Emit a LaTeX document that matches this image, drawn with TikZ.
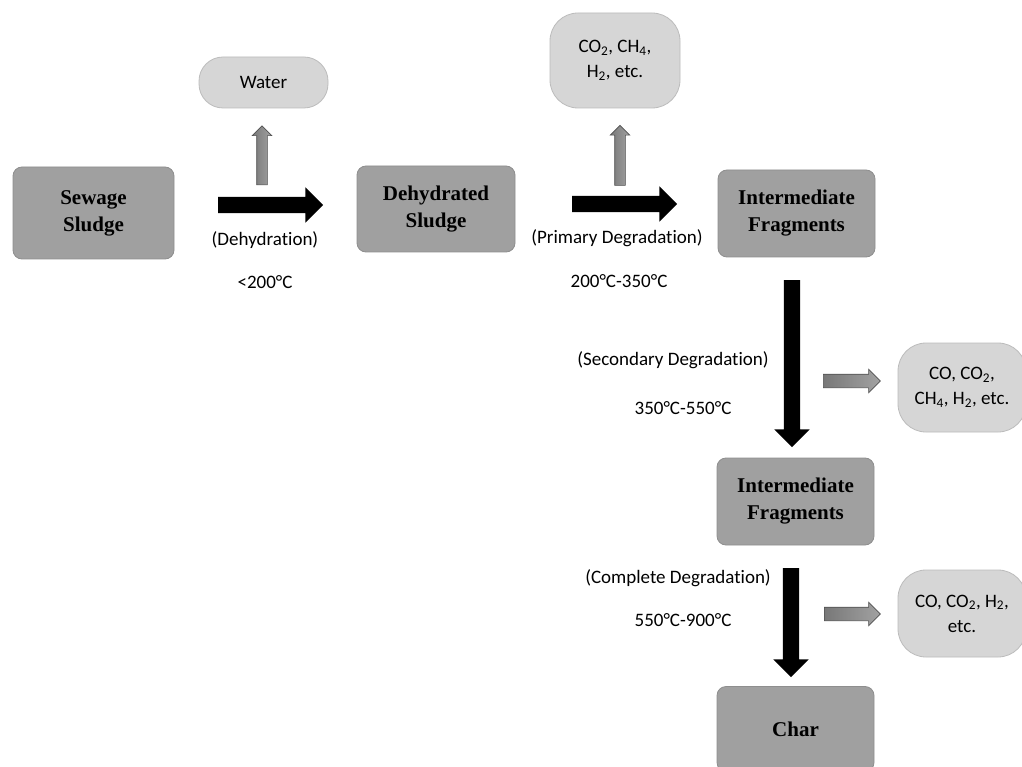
\documentclass[tikz,border=0pt]{standalone}
\usepackage{fontspec}
\setmainfont[Ligatures=NoCommon]{Carlito}
\newfontfamily\boxfont{Liberation Serif}
\usetikzlibrary{shapes.arrows}
\definecolor{darkfill}{HTML}{A0A0A0}
\definecolor{darkline}{HTML}{8E8E8E}
\definecolor{lightfill}{HTML}{D6D6D6}
\definecolor{lightline}{HTML}{BCBCBC}
\definecolor{arrowdark}{HTML}{787878}
\definecolor{arrowlight}{HTML}{A2A2A2}
\definecolor{arrowline}{HTML}{505050}
\begin{document}
\begin{tikzpicture}[x=1pt,y=-1pt,
  stage/.style={draw=darkline, fill=darkfill, rounded corners=9pt, line width=0.8pt, align=center,
    font=\boxfont\bfseries\fontsize{21}{27}\selectfont, inner sep=0pt},
  gas/.style={draw=lightline, fill=lightfill, line width=0.8pt, align=center,
    font=\fontsize{19}{25}\selectfont, inner sep=0pt},
  lbl/.style={font=\fontsize{19}{23}\selectfont, inner sep=0pt},
  bigarrow/.style={single arrow, fill=black, inner xsep=0pt, inner ysep=8pt,
    single arrow head extend=9.5pt, single arrow tip angle=90},
  smallarrow/.style={single arrow, left color=arrowdark, right color=arrowlight, draw=arrowline, line width=0.6pt,
    inner xsep=0pt, inner ysep=5pt, single arrow head extend=4.5pt, single arrow tip angle=90},
]
\clip (0,0) rectangle (1022,767);
\fill[white] (0,0) rectangle (1022,767);

% process boxes
\node[stage, minimum width=161pt, minimum height=92pt] (ss) at (93.5,213) {Sewage\\Sludge};
\node[stage, minimum width=158pt, minimum height=86pt] (dh) at (436,209) {Dehydrated\\Sludge};
\node[stage, minimum width=157pt, minimum height=87pt] (if1) at (796.5,213.5) {Intermediate\\Fragments};
\node[stage, minimum width=157pt, minimum height=87pt] (if2) at (795.5,501.5) {Intermediate\\Fragments};
\node[stage, minimum width=157pt, minimum height=85pt] (char) at (795.5,729) {Char};

% product boxes
\node[gas, rounded corners=24pt, minimum width=129pt, minimum height=51pt] (water) at (263.5,82.5) {Water};
\node[gas, rounded corners=28pt, minimum width=130pt, minimum height=95pt] (gas1) at (615,60.5)
  {CO\textsubscript{2}, CH\textsubscript{4},\\H\textsubscript{2}, etc.};
\node[gas, rounded corners=28pt, minimum width=128pt, minimum height=89pt] (gas2) at (962,387.5)
  {CO, CO\textsubscript{2},\\CH\textsubscript{4}, H\textsubscript{2}, etc.};
\node[gas, rounded corners=28pt, minimum width=128pt, minimum height=87pt] (gas3) at (962,613.5)
  {CO, CO\textsubscript{2}, H\textsubscript{2},\\etc.};

% main arrows
\node[bigarrow, minimum height=105pt] (a1) at (266.5,205) {};
\node[bigarrow, minimum height=105pt] (a2) at (620.5,204) {};
\node[bigarrow, minimum height=167pt, rotate=-90] (a3) at (792,359.5) {};
\node[bigarrow, minimum height=109pt, rotate=-90] (a4) at (791,618.5) {};

% side arrows
\node[smallarrow, minimum height=59pt, rotate=90] (s1) at (262,158) {};
\node[smallarrow, minimum height=60pt, rotate=90] (s2) at (620,158) {};
\node[smallarrow, minimum height=57pt, inner ysep=6.5pt, single arrow head extend=5pt] (s3) at (848.5,381) {};
\node[smallarrow, minimum height=56pt, inner ysep=6.5pt, single arrow head extend=5pt] (s4) at (849,614) {};

% labels
\node[lbl] (l1) at (265,240) {(Dehydration)};
\node[lbl] (t1) at (265,282) {<200°C};
\node[lbl] (l2) at (617,238) {(Primary Degradation)};
\node[lbl] (t2) at (619,281) {200°C-350°C};
\node[lbl] (l3) at (673,360) {(Secondary Degradation)};
\node[lbl] (t3) at (683,408) {350°C-550°C};
\node[lbl] (l4) at (678,578) {(Complete Degradation)};
\node[lbl] (t4) at (683,620) {550°C-900°C};
\end{tikzpicture}
\end{document}
